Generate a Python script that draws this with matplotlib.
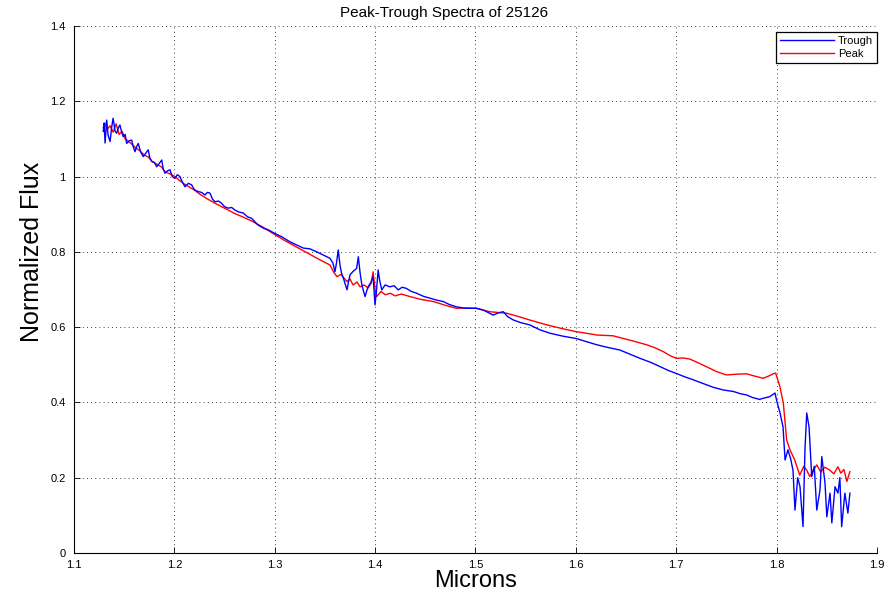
import matplotlib
matplotlib.use("Agg")
import matplotlib.pyplot as plt

# Trough spectrum (blue)
trough_x = [1.1292, 1.1300, 1.1310, 1.1326, 1.1340, 1.1360, 1.1375, 1.1390, 1.1410, 1.1425,
            1.1440, 1.1458, 1.1475, 1.1490, 1.1510, 1.1525, 1.1550, 1.1575, 1.1590, 1.1608,
            1.1625, 1.1640, 1.1665, 1.1690, 1.1715, 1.1740, 1.1755, 1.1774, 1.1800, 1.1824,
            1.1850, 1.1874, 1.1890, 1.1907, 1.1930, 1.1956, 1.1980, 1.2006, 1.2030, 1.2056,
            1.2080, 1.2106, 1.2140, 1.2172, 1.2200, 1.2238, 1.2270, 1.2305, 1.2330, 1.2355,
            1.2380, 1.2405, 1.2440, 1.2471, 1.2500, 1.2537, 1.2570, 1.2604, 1.2640, 1.2687,
            1.2730, 1.2770, 1.2830, 1.2886, 1.2940, 1.3000, 1.3070, 1.3150, 1.3220, 1.3285,
            1.3350, 1.3418, 1.3480, 1.3550, 1.3580, 1.3600, 1.3615, 1.3633, 1.3650, 1.3666,
            1.3690, 1.3720, 1.3735, 1.3750, 1.3780, 1.3816, 1.3833, 1.3850, 1.3866, 1.3880,
            1.3900, 1.3915, 1.3930, 1.3960, 1.3980, 1.3999, 1.4015, 1.4030, 1.4045, 1.4066,
            1.4100, 1.4148, 1.4190, 1.4230, 1.4270, 1.4310, 1.4360, 1.4414, 1.4480, 1.4547,
            1.4610, 1.4679, 1.4740, 1.4810, 1.4900, 1.5010, 1.5080, 1.5140, 1.5177, 1.5230,
            1.5277, 1.5320, 1.5377, 1.5450, 1.5540, 1.5640, 1.5740, 1.5870, 1.6000, 1.6100,
            1.6210, 1.6320, 1.6440, 1.6540, 1.6640, 1.6740, 1.6840, 1.6920, 1.7000, 1.7085,
            1.7170, 1.7270, 1.7370, 1.7470, 1.7570, 1.7640, 1.7700, 1.7760, 1.7830, 1.7880,
            1.7930, 1.7984, 1.8000, 1.8034, 1.8064, 1.8084, 1.8113, 1.8140, 1.8163, 1.8183,
            1.8210, 1.8233, 1.8263, 1.8283, 1.8300, 1.8323, 1.8350, 1.8375, 1.8400, 1.8432,
            1.8450, 1.8482, 1.8500, 1.8532, 1.8550, 1.8582, 1.8611, 1.8630, 1.8648, 1.8680,
            1.8710, 1.8730]
trough_y = [1.120, 1.142, 1.089, 1.150, 1.110, 1.093, 1.130, 1.155, 1.120, 1.115,
            1.128, 1.137, 1.118, 1.106, 1.112, 1.088, 1.095, 1.097, 1.080, 1.066,
            1.080, 1.088, 1.065, 1.053, 1.062, 1.071, 1.050, 1.040, 1.038, 1.026,
            1.035, 1.044, 1.020, 1.009, 1.015, 1.018, 1.000, 0.995, 1.005, 1.000,
            0.985, 0.973, 0.982, 0.978, 0.965, 0.960, 0.958, 0.951, 0.958, 0.956,
            0.940, 0.933, 0.935, 0.929, 0.920, 0.916, 0.918, 0.911, 0.906, 0.903,
            0.893, 0.889, 0.872, 0.863, 0.858, 0.849, 0.840, 0.827, 0.818, 0.810,
            0.808, 0.800, 0.792, 0.783, 0.770, 0.747, 0.770, 0.805, 0.765, 0.743,
            0.725, 0.699, 0.720, 0.739, 0.748, 0.756, 0.787, 0.745, 0.716, 0.700,
            0.681, 0.695, 0.707, 0.720, 0.734, 0.659, 0.700, 0.752, 0.725, 0.699,
            0.712, 0.707, 0.710, 0.699, 0.706, 0.703, 0.695, 0.690, 0.682, 0.677,
            0.672, 0.668, 0.660, 0.654, 0.650, 0.650, 0.645, 0.637, 0.632, 0.638,
            0.641, 0.628, 0.619, 0.612, 0.606, 0.593, 0.584, 0.576, 0.570, 0.562,
            0.553, 0.546, 0.539, 0.528, 0.517, 0.507, 0.495, 0.485, 0.477, 0.468,
            0.460, 0.450, 0.440, 0.433, 0.429, 0.423, 0.420, 0.413, 0.408, 0.412,
            0.415, 0.425, 0.405, 0.372, 0.335, 0.247, 0.274, 0.250, 0.220, 0.114,
            0.200, 0.176, 0.070, 0.279, 0.372, 0.335, 0.203, 0.230, 0.114, 0.167,
            0.256, 0.186, 0.096, 0.159, 0.080, 0.176, 0.159, 0.200, 0.070, 0.159,
            0.106, 0.159]

# Peak spectrum (red)
peak_x = [1.1292, 1.1310, 1.1330, 1.1360, 1.1390, 1.1420, 1.1450, 1.1480, 1.1510, 1.1550,
          1.1580, 1.1620, 1.1660, 1.1700, 1.1740, 1.1780, 1.1830, 1.1870, 1.1910, 1.1950,
          1.2006, 1.2050, 1.2100, 1.2150, 1.2200, 1.2260, 1.2320, 1.2400, 1.2470, 1.2537,
          1.2600, 1.2680, 1.2770, 1.2880, 1.3000, 1.3100, 1.3250, 1.3340, 1.3420, 1.3500,
          1.3550, 1.3590, 1.3620, 1.3660, 1.3720, 1.3750, 1.3780, 1.3820, 1.3850, 1.3890,
          1.3930, 1.3960, 1.3980, 1.4000, 1.4015, 1.4060, 1.4100, 1.4150, 1.4200, 1.4260,
          1.4350, 1.4450, 1.4580, 1.4700, 1.4810, 1.4900, 1.5010, 1.5140, 1.5310, 1.5430,
          1.5540, 1.5710, 1.5850, 1.6000, 1.6100, 1.6210, 1.6370, 1.6500, 1.6600, 1.6706,
          1.6790, 1.6870, 1.6940, 1.7000, 1.7070, 1.7137, 1.7220, 1.7300, 1.7400, 1.7500,
          1.7600, 1.7700, 1.7780, 1.7867, 1.7920, 1.7967, 1.7990, 1.8030, 1.8067, 1.8100,
          1.8133, 1.8180, 1.8230, 1.8270, 1.8300, 1.8330, 1.8370, 1.8400, 1.8440, 1.8480,
          1.8530, 1.8570, 1.8610, 1.8640, 1.8670, 1.8700, 1.8730]
peak_y = [1.130, 1.142, 1.125, 1.135, 1.118, 1.140, 1.112, 1.120, 1.100, 1.092,
          1.085, 1.075, 1.068, 1.057, 1.052, 1.040, 1.032, 1.026, 1.012, 1.008,
          1.000, 0.990, 0.980, 0.972, 0.964, 0.952, 0.942, 0.930, 0.920, 0.911,
          0.902, 0.893, 0.882, 0.866, 0.846, 0.830, 0.808, 0.795, 0.783, 0.772,
          0.765, 0.745, 0.734, 0.740, 0.721, 0.728, 0.712, 0.720, 0.707, 0.712,
          0.704, 0.716, 0.747, 0.700, 0.681, 0.695, 0.686, 0.690, 0.683, 0.688,
          0.681, 0.674, 0.668, 0.658, 0.650, 0.651, 0.650, 0.641, 0.637, 0.628,
          0.619, 0.606, 0.597, 0.588, 0.584, 0.579, 0.577, 0.568, 0.561, 0.553,
          0.545, 0.535, 0.524, 0.517, 0.518, 0.515, 0.505, 0.495, 0.482, 0.473,
          0.475, 0.476, 0.470, 0.464, 0.470, 0.476, 0.478, 0.445, 0.398, 0.300,
          0.274, 0.247, 0.207, 0.230, 0.220, 0.203, 0.222, 0.234, 0.215, 0.228,
          0.220, 0.210, 0.229, 0.212, 0.222, 0.190, 0.216]

x_ticks = [1.1, 1.2, 1.3, 1.4, 1.5, 1.6, 1.7, 1.8, 1.9]
x_labels = ["1.1", "1.2", "1.3", "1.4", "1.5", "1.6", "1.7", "1.8", "1.9"]
y_ticks = [0, 0.2, 0.4, 0.6, 0.8, 1.0, 1.2, 1.4]
y_labels = ["0", "0.2", "0.4", "0.6", "0.8", "1", "1.2", "1.4"]

sans = ["Liberation Sans", "DejaVu Sans"]

fig = plt.figure(figsize=(8.89, 5.92), dpi=100)
ax = fig.add_axes([0.0832, 0.0659, 0.9033, 0.8902])

ax.plot(trough_x, trough_y, color="#0000ff", lw=1.0, label="Trough", zorder=3)
ax.plot(peak_x, peak_y, color="#ff0000", lw=1.0, label="Peak", zorder=2)

ax.set_xlim(1.1, 1.9)
ax.set_ylim(0, 1.4)
ax.set_xticks(x_ticks)
ax.set_xticklabels(x_labels, family=sans, fontsize=8)
ax.set_yticks(y_ticks)
ax.set_yticklabels(y_labels, family=sans, fontsize=8)
ax.tick_params(axis="x", direction="in", length=4, width=0.6, pad=5)
ax.tick_params(axis="y", direction="in", length=4, width=0.6, pad=6)

ax.grid(True, color="black", linestyle=(0, (1, 4)), linewidth=0.6)
ax.spines["top"].set_visible(False)
ax.spines["right"].set_visible(False)
ax.spines["left"].set_linewidth(0.8)
ax.spines["bottom"].set_linewidth(0.8)

ax.set_xlabel("Microns", family=sans, fontsize=17)
ax.xaxis.set_label_coords(0.5, -0.033)
ax.set_ylabel("Normalized Flux", family=sans, fontsize=18)
ax.yaxis.set_label_coords(-0.037, 0.571)

fig.text(444 / 889, 0.978, "Peak-Trough Spectra of 25126",
         family=sans, fontsize=11, ha="center", va="center")

leg = ax.legend(loc="upper right", bbox_to_anchor=(1.0, 0.988), borderaxespad=0,
                frameon=True, fancybox=False, framealpha=1, edgecolor="black",
                handlelength=4.8, borderpad=0.35, labelspacing=0.25, handletextpad=0.4,
                prop={"family": sans, "size": 8})
leg.get_frame().set_linewidth(0.9)

fig.savefig("out.png", dpi=100)
